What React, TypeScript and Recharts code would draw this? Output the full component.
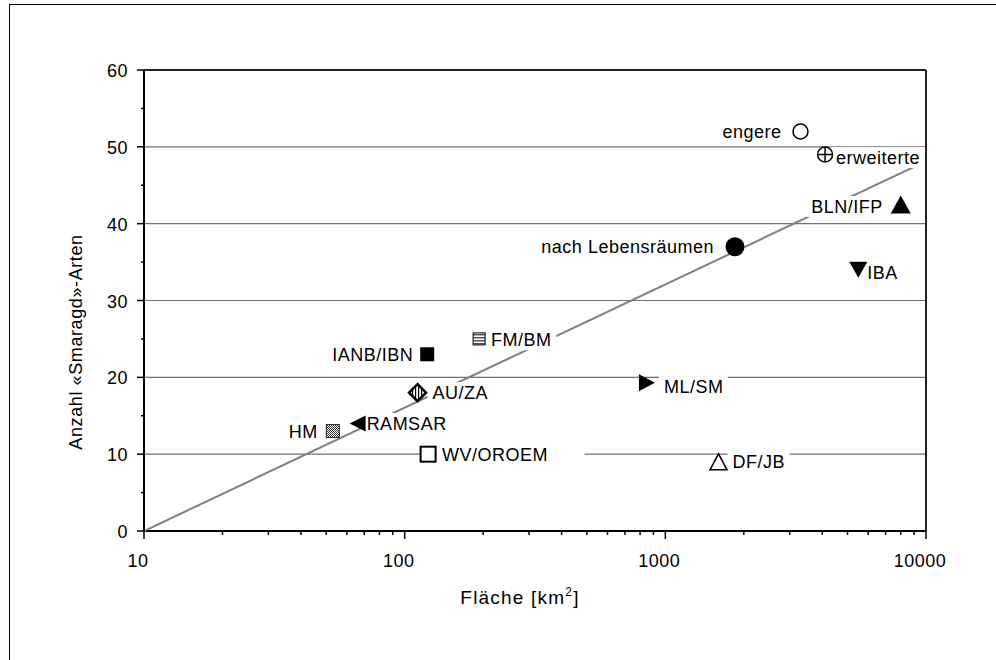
import { ScatterChart, Scatter, XAxis, YAxis, CartesianGrid } from "recharts";

const FONT = '"Liberation Sans", Arial, sans-serif';

// survey types, area in km² and number of «Smaragd» species
const NAMES = [
  "engere",
  "erweiterte",
  "BLN/IFP",
  "nach Lebensräumen",
  "IBA",
  "FM/BM",
  "IANB/IBN",
  "AU/ZA",
  "ML/SM",
  "RAMSAR",
  "HM",
  "WV/OROEM",
  "DF/JB",
];
const AREAS = [3300, 4100, 8000, 1850, 5500, 193, 122, 112, 850, 66, 53, 123, 1600];
const SPECIES = [52, 49, 42.5, 37, 34, 25, 23, 18, 19.3, 14, 13, 10, 9];

// trend line end points
const TREND_AREAS = [10, 9000];
const TREND_SPECIES = [0, 47.4];

const X_MAJOR = [10, 100, 1000, 10000];
const X_TICKS = [
  10, 20, 30, 40, 50, 60, 70, 80, 90,
  100, 200, 300, 400, 500, 600, 700, 800, 900,
  1000, 2000, 3000, 4000, 5000, 6000, 7000, 8000, 9000,
  10000,
];
const Y_TICKS = [0, 5, 10, 15, 20, 25, 30, 35, 40, 45, 50, 55, 60];
const Y_GRID = [10, 20, 30, 40, 50];

const points = NAMES.map((name, i) => ({ name, area: AREAS[i], species: SPECIES[i] }));
const trend = TREND_AREAS.map((area, i) => ({ area, species: TREND_SPECIES[i] }));

const MARKERS: Record<string, string> = {
  engere: "circleOpen",
  erweiterte: "circleCross",
  "BLN/IFP": "triUp",
  "nach Lebensräumen": "circleFilled",
  IBA: "triDown",
  "FM/BM": "squareStriped",
  "IANB/IBN": "squareFilled",
  "AU/ZA": "diamondStriped",
  "ML/SM": "triRight",
  RAMSAR: "triLeft",
  HM: "squareChecker",
  "WV/OROEM": "squareOpen",
  "DF/JB": "triUpOpen",
};

type LabelPos = { side: "left" | "right"; gap: number; dy: number; extra?: number };
const LABEL_POS: Record<string, LabelPos> = {
  engere: { side: "left", gap: 19, dy: 0 },
  erweiterte: { side: "right", gap: 11, dy: 3 },
  "BLN/IFP": { side: "left", gap: 18, dy: 2 },
  "nach Lebensräumen": { side: "left", gap: 21, dy: 0 },
  IBA: { side: "right", gap: 9, dy: 3 },
  "FM/BM": { side: "right", gap: 12, dy: 1 },
  "IANB/IBN": { side: "left", gap: 14, dy: 0 },
  "AU/ZA": { side: "right", gap: 15, dy: 0 },
  "ML/SM": { side: "right", gap: 17, dy: 4 },
  RAMSAR: { side: "right", gap: 9, dy: 0 },
  HM: { side: "left", gap: 15, dy: 0 },
  "WV/OROEM": { side: "right", gap: 14, dy: 0, extra: 32 },
  "DF/JB": { side: "right", gap: 14, dy: 0 },
};

const FS = 18;
const LS = 0.5;

// rough Arial advance widths (em)
const CW: Record<string, number> = {
  A: 0.667, B: 0.667, D: 0.722, E: 0.667, F: 0.611, H: 0.722, I: 0.278, J: 0.5,
  L: 0.556, M: 0.833, N: 0.722, O: 0.778, P: 0.667, R: 0.722, S: 0.667, V: 0.667,
  W: 0.944, Z: 0.611, a: 0.556, b: 0.556, c: 0.5, e: 0.556, g: 0.556, h: 0.556,
  i: 0.222, m: 0.833, n: 0.556, r: 0.333, s: 0.5, t: 0.278, u: 0.556, w: 0.722,
  "ä": 0.556, "/": 0.278, " ": 0.278,
};
const textWidth = (s: string, fs: number) =>
  [...s].reduce((w, c) => w + (CW[c] ?? 0.556) * fs + LS, 0) - LS;

function Marker({ kind, cx, cy }: { kind: string; cx: number; cy: number }) {
  const k = "#000";
  switch (kind) {
    case "circleOpen":
      return <circle cx={cx} cy={cy} r={7.5} fill="#fff" stroke={k} strokeWidth={1.5} />;
    case "circleCross":
      return (
        <g>
          <circle cx={cx} cy={cy} r={7.5} fill="#fff" stroke={k} strokeWidth={1.5} />
          <line x1={cx - 7.5} x2={cx + 7.5} y1={cy} y2={cy} stroke={k} strokeWidth={1.5} />
          <line x1={cx} x2={cx} y1={cy - 7.5} y2={cy + 7.5} stroke={k} strokeWidth={1.5} />
        </g>
      );
    case "circleFilled":
      return <circle cx={cx} cy={cy} r={9.5} fill={k} />;
    case "triUp":
      return <polygon points={`${cx},${cy - 9} ${cx + 10},${cy + 9} ${cx - 10},${cy + 9}`} fill={k} />;
    case "triUpOpen":
      return (
        <polygon
          points={`${cx},${cy - 8} ${cx + 8.5},${cy + 8} ${cx - 8.5},${cy + 8}`}
          fill="#fff"
          stroke={k}
          strokeWidth={1.5}
        />
      );
    case "triDown":
      return <polygon points={`${cx - 9},${cy - 8} ${cx + 9},${cy - 8} ${cx},${cy + 8}`} fill={k} />;
    case "triLeft":
      return <polygon points={`${cx - 8},${cy} ${cx + 8},${cy - 8} ${cx + 8},${cy + 8}`} fill={k} />;
    case "triRight":
      return <polygon points={`${cx + 8},${cy} ${cx - 8},${cy - 8.5} ${cx - 8},${cy + 8.5}`} fill={k} />;
    case "squareFilled":
      return <rect x={cx - 7} y={cy - 7} width={14} height={14} fill={k} />;
    case "squareOpen":
      return <rect x={cx - 7.5} y={cy - 7.5} width={15} height={15} fill="#fff" stroke={k} strokeWidth={2} />;
    case "squareStriped":
      return (
        <rect x={cx - 6} y={cy - 6} width={12} height={12} fill="url(#hstripe)" stroke={k} strokeWidth={1} />
      );
    case "squareChecker":
      return (
        <rect x={cx - 6.5} y={cy - 6.5} width={13} height={13} fill="url(#checker)" stroke="#222" strokeWidth={1} />
      );
    case "diamondStriped":
      return (
        <polygon
          points={`${cx},${cy - 8.5} ${cx + 8.5},${cy} ${cx},${cy + 8.5} ${cx - 8.5},${cy}`}
          fill="url(#vstripe)"
          stroke={k}
          strokeWidth={2.5}
        />
      );
    default:
      return null;
  }
}

function PointShape(props: any) {
  const { cx, cy, payload } = props;
  const name: string = payload.name;
  const pos = LABEL_POS[name];
  const w = textWidth(name, FS);
  const cap = FS * 0.716;
  const baseline = cy + pos.dy + cap / 2;
  const tx = pos.side === "right" ? cx + pos.gap : cx - pos.gap;
  const x0 = pos.side === "right" ? tx : tx - w;
  return (
    <g>
      <rect
        x={x0 - 5}
        y={baseline - cap - 4}
        width={w + 10 + (pos.extra ?? 0)}
        height={cap + 8}
        fill="#fff"
      />
      <text
        x={tx}
        y={baseline}
        textAnchor={pos.side === "right" ? "start" : "end"}
        fontFamily={FONT}
        fontSize={FS}
        letterSpacing={LS}
        fill="#000"
      >
        {name}
      </text>
      <Marker kind={MARKERS[name]} cx={cx} cy={cy} />
    </g>
  );
}

function XTick(props: any) {
  const { x, y, payload } = props;
  const major = X_MAJOR.includes(payload.value);
  return (
    <g>
      <line x1={x} x2={x} y1={y - (major ? 1 : 0)} y2={y + (major ? 8 : 4)} stroke="#000" strokeWidth={1.5} />
      {major && (
        <text
          x={x - 6}
          y={y + 36}
          textAnchor="middle"
          fontFamily={FONT}
          fontSize={FS}
          letterSpacing={LS}
          fill="#000"
        >
          {payload.value}
        </text>
      )}
    </g>
  );
}

function YTick(props: any) {
  const { x, y, payload } = props;
  const major = payload.value % 10 === 0;
  return (
    <g>
      <line x1={x - (major ? 7 : 3)} x2={x + 1} y1={y} y2={y} stroke="#000" strokeWidth={1.5} />
      {major && (
        <text
          x={x - 16}
          y={y + 7}
          textAnchor="end"
          fontFamily={FONT}
          fontSize={FS}
          letterSpacing={LS}
          fill="#000"
        >
          {payload.value}
        </text>
      )}
    </g>
  );
}

const xTitle = () => (
  <text x={520} y={604} textAnchor="middle" fontFamily={FONT} fontSize={19} letterSpacing={1.2} fill="#000">
    Fläche [km
    <tspan dy={-8} fontSize={12}>2</tspan>
    <tspan dy={8}>]</tspan>
  </text>
);

const yTitle = () => (
  <text
    transform="translate(82 342) rotate(-90)"
    textAnchor="middle"
    fontFamily={FONT}
    fontSize={18}
    letterSpacing={0.6}
    fill="#000"
  >
    Anzahl «Smaragd»-Arten
  </text>
);

export default function App() {
  return (
    <div
      style={{
        position: "absolute",
        left: 0,
        top: 0,
        width: 996,
        height: 660,
        overflow: "hidden",
        background: "#fff",
      }}
    >
      <div
        style={{
          position: "absolute",
          left: 9,
          top: 4,
          width: 1100,
          height: 800,
          borderLeft: "1.5px solid #000",
          borderTop: "1.5px solid #000",
        }}
      />
      <svg width={0} height={0} style={{ position: "absolute" }}>
        <defs>
          <pattern id="hstripe" width={3} height={3} patternUnits="userSpaceOnUse">
            <rect width={3} height={3} fill="#fff" />
            <rect y={1} width={3} height={1.5} fill="#555" />
          </pattern>
          <pattern id="vstripe" width={3} height={3} patternUnits="userSpaceOnUse">
            <rect width={3} height={3} fill="#fff" />
            <rect x={1} width={1.2} height={3} fill="#000" />
          </pattern>
          <pattern id="checker" width={2} height={2} patternUnits="userSpaceOnUse">
            <rect width={2} height={2} fill="#fff" />
            <rect width={1} height={1} fill="#333" />
            <rect x={1} y={1} width={1} height={1} fill="#333" />
          </pattern>
        </defs>
      </svg>
      <div style={{ position: "absolute", left: 0, top: 0 }}>
        <ScatterChart width={996} height={660} margin={{ top: 69, right: 69, bottom: 69, left: 84 }}>
          <CartesianGrid
            horizontal
            vertical={false}
            horizontalValues={Y_GRID}
            stroke="#707070"
            strokeWidth={1.2}
          />
          <XAxis
            dataKey="area"
            type="number"
            scale="log"
            domain={[10, 10000]}
            allowDataOverflow
            ticks={X_TICKS}
            interval={0}
            height={60}
            tickSize={0}
            tickMargin={0}
            tickLine={false}
            tick={XTick}
            axisLine={{ stroke: "#000", strokeWidth: 2 }}
            label={xTitle}
          />
          <XAxis
            xAxisId="top"
            orientation="top"
            type="number"
            scale="log"
            domain={[10, 10000]}
            height={1}
            tick={false}
            tickLine={false}
            axisLine={{ stroke: "#222", strokeWidth: 2 }}
          />
          <YAxis
            dataKey="species"
            type="number"
            domain={[0, 60]}
            ticks={Y_TICKS}
            interval={0}
            width={60}
            tickSize={0}
            tickMargin={0}
            tickLine={false}
            tick={YTick}
            axisLine={{ stroke: "#000", strokeWidth: 2 }}
            label={yTitle}
          />
          <YAxis
            yAxisId="right"
            orientation="right"
            type="number"
            domain={[0, 60]}
            width={1}
            tick={false}
            tickLine={false}
            axisLine={{ stroke: "#222", strokeWidth: 2 }}
          />
          <Scatter
            data={trend}
            line={{ stroke: "#808080", strokeWidth: 2 }}
            shape={() => <g />}
            isAnimationActive={false}
          />
          <Scatter data={points} shape={PointShape} isAnimationActive={false} />
        </ScatterChart>
      </div>
    </div>
  );
}
